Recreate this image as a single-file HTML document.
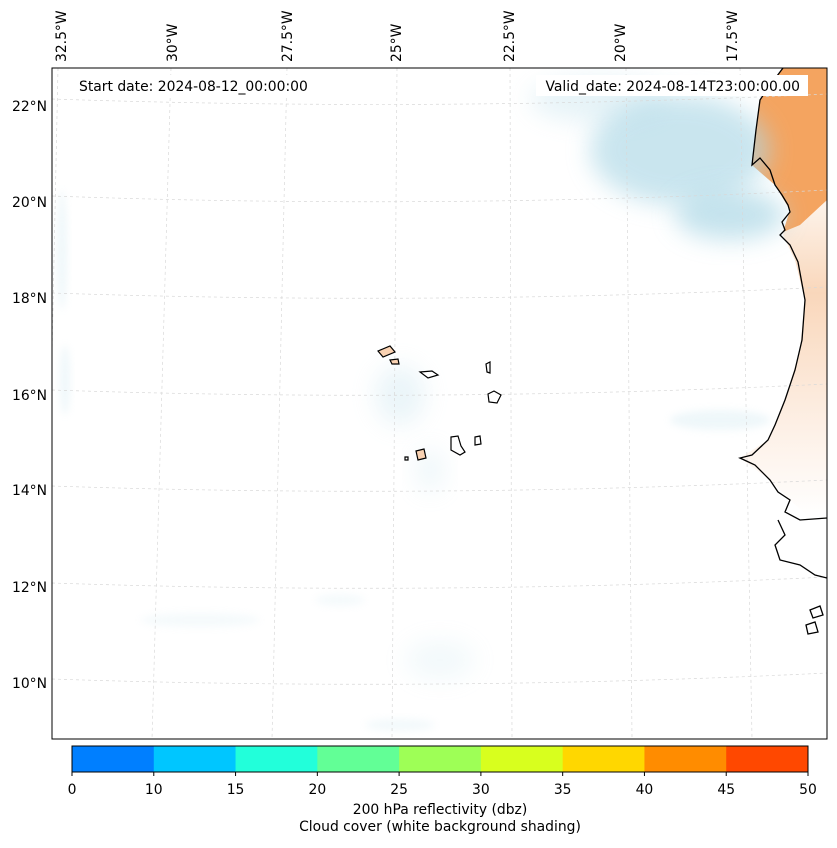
<!DOCTYPE html>
<html><head><meta charset="utf-8"><style>
body{margin:0;background:#fff;font-family:"Liberation Sans","DejaVu Sans",sans-serif}
svg text{font-family:"DejaVu Sans","Liberation Sans",sans-serif}
</style></head><body>
<svg width="837" height="843" viewBox="0 0 837 843">
<defs>
<filter id="bl" x="-50%" y="-50%" width="200%" height="200%"><feGaussianBlur stdDeviation="12"/></filter>
<filter id="bl2" x="-50%" y="-50%" width="200%" height="200%"><feGaussianBlur stdDeviation="4"/></filter>
<clipPath id="mc"><rect x="52" y="68" width="775" height="671"/></clipPath>
<linearGradient id="land" x1="0" y1="0" x2="0" y2="1">
<stop offset="0" stop-color="#f4a460"/><stop offset="0.22" stop-color="#f4a460"/><stop offset="0.3" stop-color="#fdf3ea"/><stop offset="0.5" stop-color="#f9d7bb"/><stop offset="0.8" stop-color="#fdf0e6"/><stop offset="1" stop-color="#fff"/></linearGradient>
</defs>
<g clip-path="url(#mc)">
<g>
<path d="M783,68 L760,100 L752,165 L775,185 L790,210 L783,235 L795,260 L805,300 L800,350 L785,400 L768,440 L740,458 L770,480 L790,500 L810,518 L827,518 L827,68 Z" fill="url(#land)"/>
<path d="M783,68 L760,100 L752,165 L775,185 L790,210 L783,232 L800,225 L827,200 L827,68 Z" fill="#f4a460"/>
</g>
<g fill="#add8e6">
<ellipse cx="680" cy="150" rx="90" ry="55" filter="url(#bl)" opacity="0.65"/>
<ellipse cx="730" cy="215" rx="55" ry="25" filter="url(#bl)" opacity="0.7"/>
<ellipse cx="600" cy="100" rx="70" ry="22" filter="url(#bl)" opacity="0.3"/>
<ellipse cx="400" cy="395" rx="25" ry="30" filter="url(#bl)" opacity="0.25"/>
<ellipse cx="430" cy="470" rx="14" ry="22" filter="url(#bl)" opacity="0.2"/>
<ellipse cx="720" cy="420" rx="50" ry="10" filter="url(#bl2)" opacity="0.2"/>
<ellipse cx="440" cy="660" rx="35" ry="20" filter="url(#bl)" opacity="0.15"/>
<ellipse cx="200" cy="620" rx="60" ry="7" filter="url(#bl2)" opacity="0.12"/>
<ellipse cx="400" cy="725" rx="35" ry="6" filter="url(#bl2)" opacity="0.15"/>
<ellipse cx="62" cy="250" rx="5" ry="60" filter="url(#bl2)" opacity="0.2"/>
<ellipse cx="65" cy="380" rx="5" ry="35" filter="url(#bl2)" opacity="0.2"/>
<ellipse cx="340" cy="600" rx="25" ry="6" filter="url(#bl2)" opacity="0.12"/>
</g>
<g fill="none" stroke="#d8d8d8" stroke-width="0.7" stroke-dasharray="3,3">
<path d="M52,99 Q440,112 827,94"/><path d="M52,196 Q440,210 827,190"/><path d="M52,293 Q440,306 827,287"/>
<path d="M52,390 Q440,403 827,384"/><path d="M52,486 Q440,499 827,480"/><path d="M52,583 Q440,596 827,577"/><path d="M52,679 Q440,692 827,673"/>
<path d="M58,68 L44,739"/><path d="M171,68 L152,739"/><path d="M287,68 L272,739"/><path d="M397,68 L392,739"/>
<path d="M510,68 L512,739"/><path d="M626,68 L632,739"/><path d="M740,68 L752,739"/>
</g>
<g fill="none" stroke="#000" stroke-width="1.3">
<path d="M783,68 L768,88 L760,100 L756,130 L752,165 L760,158 L770,170 L775,185 L782,195 L788,205 L790,212 L782,222 L785,230 L780,235 L790,245 L798,262 L805,300 L802,340 L795,370 L785,400 L775,425 L768,440 L752,455 L740,458 L755,465 L770,480 L778,492 L790,500 L785,512 L800,520 L827,518"/>
<path d="M778,520 L785,535 L775,545 L780,560 L800,565 L815,575 L827,578"/>
<path d="M810,610 L820,606 L823,615 L813,618 Z"/><path d="M806,625 L815,622 L818,632 L808,634 Z"/>
</g>
<g stroke="#000" stroke-width="1.2">
<path d="M378,351 L390,346 L395,352 L383,357 Z" fill="#f9d2b2"/>
<path d="M390,360 L398,359 L399,364 L392,364 Z" fill="#f9d2b2"/>
<path d="M420,372 L432,371 L438,375 L428,378 Z" fill="#fff"/>
<path d="M486,364 L490,362 L490,373 L487,372 Z" fill="#fff"/>
<path d="M488,394 L494,391 L501,395 L497,403 L489,402 Z" fill="#fff"/>
<path d="M451,437 L458,436 L461,446 L465,452 L460,455 L451,450 Z" fill="#fff"/>
<path d="M475,437 L480,436 L481,444 L475,445 Z" fill="#fff"/>
<path d="M416,451 L424,449 L426,458 L418,460 Z" fill="#f9d2b2"/>
<path d="M405,457 L408,457 L408,460 L405,460 Z" fill="#fff"/>
</g>
<rect x="72" y="75" width="245" height="21" fill="#fff"/>
<rect x="536" y="75" width="272" height="21" fill="#fff"/>
<text x="79" y="91" font-size="13.9">Start date: 2024-08-12_00:00:00</text>
<text x="800" y="91" font-size="13.9" text-anchor="end">Valid_date: 2024-08-14T23:00:00.00</text>
</g>
<rect x="52" y="68" width="775" height="671" fill="none" stroke="#000" stroke-width="1"/>
<g font-size="13.9">
<text transform="translate(66,62) rotate(-90)">32.5°W</text>
<text transform="translate(177,62) rotate(-90)">30°W</text>
<text transform="translate(292,62) rotate(-90)">27.5°W</text>
<text transform="translate(401,62) rotate(-90)">25°W</text>
<text transform="translate(514,62) rotate(-90)">22.5°W</text>
<text transform="translate(625,62) rotate(-90)">20°W</text>
<text transform="translate(737,62) rotate(-90)">17.5°W</text>
</g>
<g font-size="13.9" text-anchor="end">
<text x="47" y="111">22°N</text><text x="47" y="207">20°N</text><text x="47" y="303">18°N</text>
<text x="47" y="400">16°N</text><text x="47" y="495">14°N</text><text x="47" y="592">12°N</text><text x="47" y="688">10°N</text>
</g>
<g id="cbar"></g>
<text x="440" y="814" font-size="13.9" text-anchor="middle">200 hPa reflectivity (dbz)</text>
<text x="440" y="831" font-size="13.9" text-anchor="middle">Cloud cover (white background shading)</text>
</svg>
<script>
const bounds=[0,10,15,20,25,30,35,40,45,50];
const colors=["#007fff","#00c6ff","#22ffda","#62ff96","#9eff56","#d8ff1e","#ffd700","#ff8c00","#ff4800"];
const g=document.getElementById('cbar');
const NS='http://www.w3.org/2000/svg';
const x0=72,x1=808,y0=746,h=26;
const pos=i=>x0+(x1-x0)*i/(bounds.length-1);
colors.forEach((c,i)=>{
 const r=document.createElementNS(NS,'rect');
 r.setAttribute('x',pos(i));r.setAttribute('y',y0);r.setAttribute('width',pos(i+1)-pos(i)+0.5);r.setAttribute('height',h);r.setAttribute('fill',c);
 
 
 g.appendChild(r);
});
const fr=document.createElementNS(NS,'rect');
fr.setAttribute('x',x0);fr.setAttribute('y',y0);fr.setAttribute('width',x1-x0);fr.setAttribute('height',h);fr.setAttribute('fill','none');fr.setAttribute('stroke','#000');


g.appendChild(fr);
bounds.forEach((b,i)=>{
 const l=document.createElementNS(NS,'line');
 l.setAttribute('x1',pos(i));l.setAttribute('x2',pos(i));l.setAttribute('y1',y0+h);l.setAttribute('y2',y0+h+4);l.setAttribute('stroke','#000');
 
 
 g.appendChild(l);
 const t=document.createElementNS(NS,'text');
 t.setAttribute('x',pos(i));t.setAttribute('y',794);t.setAttribute('font-size','13.9');t.setAttribute('text-anchor','middle');
 t.textContent=b;
 
 
 g.appendChild(t);
});
</script>
</body></html>
